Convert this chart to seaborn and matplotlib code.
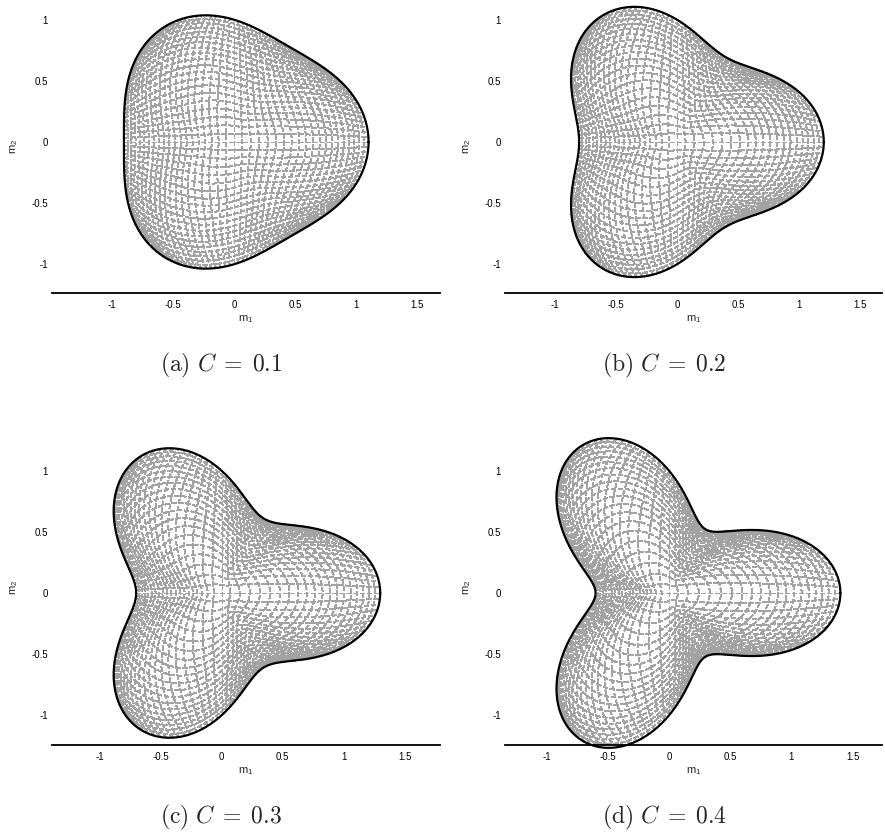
import numpy as np
import matplotlib
matplotlib.use("Agg")
import matplotlib.pyplot as plt
from matplotlib.collections import LineCollection
import seaborn as sns

# Anisotropy strengths shown in the four panels
C_values = [0.1, 0.2, 0.3, 0.4]
panel_tags = ["a", "b", "c", "d"]

# Axis windows for each panel (m1 range, m2 range)
x_limits = [(-1.488, 1.684), (-1.406, 1.676), (-1.390, 1.790), (-1.340, 1.740)]
y_limits = [(-1.235, 1.161), (-1.235, 1.161), (-1.243, 1.333), (-1.243, 1.333)]

x_ticks = [-1, -0.5, 0, 0.5, 1, 1.5]
x_tick_labels = ["-1", "-0.5", "0", "0.5", "1", "1.5"]
y_ticks = [-1, -0.5, 0, 0.5, 1]
y_tick_labels = ["-1", "-0.5", "0", "0.5", "1"]

sns.set_style("white")
plt.rcParams["font.family"] = ["Liberation Sans", "DejaVu Sans"]
plt.rcParams["mathtext.fontset"] = "custom"
plt.rcParams["mathtext.rm"] = "Liberation Sans"
plt.rcParams["mathtext.it"] = "Liberation Sans:italic"

W, H = 885, 836
fig = plt.figure(figsize=(W / 100, H / 100), dpi=100)
fig.patch.set_facecolor("white")

# axes boxes in pixels: (left, right, top, bottom)
boxes = [(52, 440, 0, 293), (505, 882, 0, 293),
         (52, 440, 430, 745), (505, 882, 430, 745)]
caption_pos = [(221, 365), (664, 365), (221, 817), (664, 817)]


def radius(C, phi):
    return 1.0 + C * np.cos(3.0 * phi)


def to_region(C, u, v):
    """Square grid -> unit disk (elliptical map) -> the region."""
    xd = u * np.sqrt(1.0 - v ** 2 / 2.0)
    yd = v * np.sqrt(1.0 - u ** 2 / 2.0)
    rho = np.hypot(xd, yd)
    phi = np.arctan2(yd, xd)
    rho = 1.35 * rho - 0.35 * rho ** 2
    w = np.where(rho < 0.5, 1.0 - (1.0 - 2.0 * rho) ** 2, 1.0)
    r = rho * (1.0 + C * w * np.cos(3.0 * phi))
    return r * np.cos(phi), r * np.sin(phi)


def interior_mesh(C, n=41, pts=240):
    segs = []
    s = np.linspace(-1, 1, pts)
    for c in np.linspace(-1, 1, n)[1:-1]:
        cc = np.full_like(s, c)
        for u, v in ((s, cc), (cc, s)):
            x, y = to_region(C, u, v)
            segs.append(np.column_stack([x, y]))
    return segs


theta = np.linspace(0, 2 * np.pi, 721)

for i, C in enumerate(C_values):
    l, r, t, b = boxes[i]
    ax = fig.add_axes([l / W, 1 - b / H, (r - l) / W, (b - t) / H])

    mesh = LineCollection(interior_mesh(C), colors="#a3a3a3",
                          linewidths=0.5, antialiased=False,
                          linestyles=[(0, (6, 3))])
    ax.add_collection(mesh)

    rb = radius(C, theta)
    sns.lineplot(x=rb * np.cos(theta), y=rb * np.sin(theta), sort=False,
                 estimator=None, color="black", linewidth=1.6, ax=ax,
                 clip_on=False, zorder=5)

    ax.set_xlim(*x_limits[i])
    ax.set_ylim(*y_limits[i])
    ax.set_xticks(x_ticks)
    ax.set_xticklabels(x_tick_labels)
    ax.set_yticks(y_ticks)
    ax.set_yticklabels(y_tick_labels)
    ax.tick_params(axis="both", direction="in", length=3, width=0.8,
                   labelsize=7, colors="black", pad=3)
    ax.tick_params(axis="x", pad=5)
    for side in ("top", "right", "left"):
        ax.spines[side].set_visible(False)
    ax.spines["bottom"].set_linewidth(1.3)
    ax.spines["bottom"].set_color("black")
    ax.set_xlabel(r"$\mathregular{m_1}$", fontsize=8, labelpad=2)
    ax.set_ylabel(r"$\mathregular{m_2}$", fontsize=8, labelpad=8)
    ax.patch.set_alpha(0)

    cx, cy = caption_pos[i]
    fig.text(cx / W, 1 - cy / H,
             r"$\mathrm{(%s)}\ C \;=\; %.1f$" % (panel_tags[i], C),
             fontsize=17, ha="center", va="center", math_fontfamily="cm")

fig.savefig("out.png", dpi=100, facecolor="white")
